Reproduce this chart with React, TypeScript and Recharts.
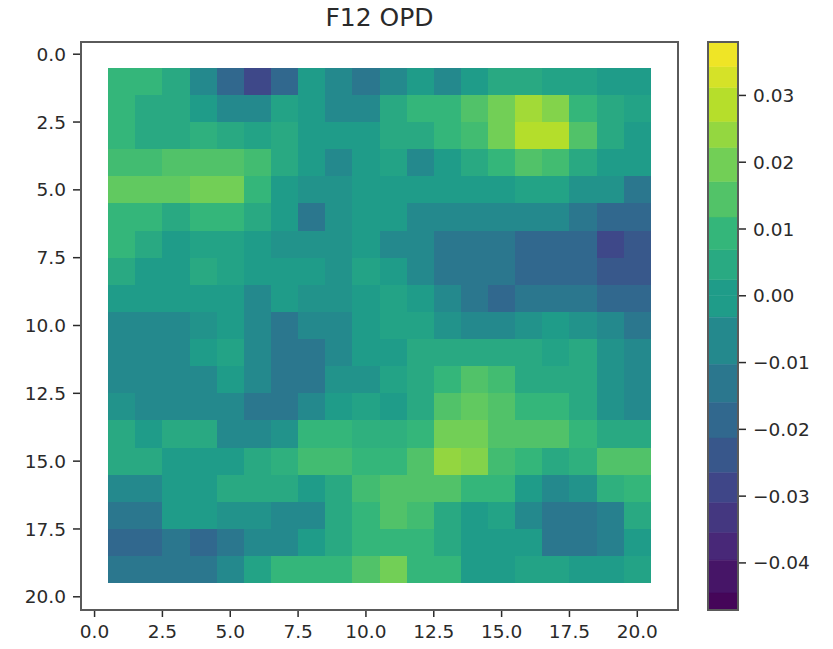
import { Bar, BarChart, Scatter, ScatterChart, XAxis, YAxis } from "recharts";

// OPD per cell, in units of 1e-3, one list per row (top to bottom), 20 columns
const row01 = [9.3, 9.3, 4.6, -6.8, -18.5, -28.2, -18.5, -0.4, -6.8, -13.2, -6.8, -0.4, -6.8, -0.4, 4.6, 4.6, 2.1, 2.1, -0.4, -0.4];
const row02 = [9.3, 4.6, 4.6, -0.4, -6.8, -6.8, 2.1, -0.4, -6.8, -6.8, 4.6, 9.3, 9.3, 14.4, 19.6, 26.1, 21.9, 9.3, 4.6, 2.1];
const row03 = [9.3, 4.6, 4.6, 7, 4.6, 2.1, 4.6, -0.4, -0.4, -0.4, 4.6, 4.6, 9.3, 11.9, 19.6, 28.5, 28.5, 14.4, 4.6, -0.4];
const row04 = [11.9, 11.9, 14.4, 14.4, 14.4, 11.9, 4.6, -0.4, -6.8, -0.4, 2.1, -6.8, -0.4, 4.6, 9.3, 14.4, 11.9, 4.6, -0.4, -0.4];
const row05 = [16.9, 16.9, 16.9, 19.6, 19.6, 9.3, -0.4, -3.6, -3.6, -0.4, -0.4, -0.4, -0.4, -0.4, -0.4, 2.1, 2.1, -3.6, -3.6, -13.2];
const row06 = [9.3, 9.3, 4.6, 9.3, 9.3, 4.6, -0.4, -13.2, -3.6, -0.4, -0.4, -6.8, -6.8, -6.8, -6.8, -6.8, -6.8, -13.2, -18.5, -18.5];
const row07 = [9.3, 4.6, -0.4, 2.1, 2.1, -0.4, -3.6, -3.6, -3.6, -0.4, -6.8, -6.8, -13.2, -13.2, -13.2, -18.5, -18.5, -18.5, -28.2, -23.6];
const row08 = [4.6, -0.4, -0.4, 4.6, 2.1, -0.4, -0.4, -0.4, -3.6, 2.1, -0.4, -6.8, -13.2, -13.2, -13.2, -18.5, -18.5, -18.5, -23.6, -23.6];
const row09 = [-0.4, -0.4, -0.4, -0.4, -0.4, -6.8, -0.4, -3.6, -3.6, -0.4, 2.1, -0.4, -6.8, -13.2, -18.5, -13.2, -13.2, -13.2, -18.5, -18.5];
const row10 = [-6.8, -6.8, -6.8, -3.6, -0.4, -6.8, -13.2, -6.8, -6.8, -0.4, 2.1, 2.1, -3.6, -6.8, -6.8, -3.6, -0.4, -3.6, -6.8, -13.2];
const row11 = [-6.8, -6.8, -6.8, -0.4, 2.1, -6.8, -13.2, -13.2, -6.8, -0.4, -0.4, 4.6, 4.6, 4.6, 4.6, 4.6, 2.1, 4.6, -3.6, -6.8];
const row12 = [-6.8, -6.8, -6.8, -6.8, -0.4, -6.8, -13.2, -13.2, -3.6, -3.6, 2.1, 4.6, 9.3, 14.4, 11.9, 4.6, 4.6, 4.6, -3.6, -6.8];
const row13 = [-3.6, -6.8, -6.8, -6.8, -6.8, -13.2, -13.2, -6.8, -0.4, 2.1, -0.4, 4.6, 14.4, 16.9, 14.4, 9.3, 9.3, 4.6, -3.6, -6.8];
const row14 = [4.6, -0.4, 4.6, 4.6, -6.8, -6.8, -3.6, 9.3, 9.3, 7, 7, 9.3, 19.6, 19.6, 14.4, 14.4, 14.4, 9.3, 4.6, 4.6];
const row15 = [4.6, 4.6, -0.4, -0.4, -0.4, 4.6, 7, 11.9, 11.9, 9.3, 9.3, 14.4, 24.1, 21.9, 11.9, 9.3, 4.6, 7, 14.4, 14.4];
const row16 = [-6.8, -6.8, -0.4, -0.4, 4.6, 4.6, 4.6, -0.4, 4.6, 11.9, 14.4, 14.4, 14.4, 9.3, 9.3, -0.4, -6.8, -3.6, 7, 9.3];
const row17 = [-13.2, -13.2, -0.4, -0.4, -3.6, -3.6, -6.8, -6.8, 4.6, 9.3, 14.4, 11.9, 4.6, -0.4, 2.1, -6.8, -13.2, -13.2, -10, 4.6];
const row18 = [-18.5, -18.5, -13.2, -18.5, -13.2, -6.8, -6.8, -0.4, 4.6, 9.3, 9.3, 9.3, 4.6, -0.4, -0.4, -0.4, -13.2, -13.2, -10, -0.4];
const row19 = [-13.2, -13.2, -13.2, -13.2, -6.8, 2.1, 9.3, 9.3, 9.3, 14.4, 19.6, 9.3, 9.3, -0.4, -0.4, 2.1, 2.1, -0.4, -0.4, 2.1];
const rows = [row01, row02, row03, row04, row05, row06, row07, row08, row09, row10, row11, row12, row13, row14, row15, row16, row17, row18, row19];

const xTicks = [0, 2.5, 5, 7.5, 10, 12.5, 15, 17.5, 20];
const yTicks = [0, 2.5, 5, 7.5, 10, 12.5, 15, 17.5, 20];
const barTicks = [-0.04, -0.03, -0.02, -0.01, 0, 0.01, 0.02, 0.03];

// colorbar band edges, bottom to top
const barEdges = [-0.0469, -0.0445, -0.0396, -0.0355, -0.031, -0.0265, -0.0213, -0.016, -0.0103, -0.0032, 0, 0.0024, 0.0069, 0.0118, 0.0171, 0.0222, 0.0261, 0.0312, 0.0343, 0.038];

const viridis = ["#440154", "#482878", "#3e4989", "#31688e", "#26828e", "#1f9e89", "#35b779", "#6ece58", "#b5de2b", "#fde725"];

const V_MIN = -0.0469;
const V_MAX = 0.038;
const FONT = "DejaVu Sans";

const PLOT = { left: 81, top: 42, width: 597, height: 567 };
const BAR = { left: 708, width: 30 };
const X_DOMAIN = [-0.5, 21.5];
const Y_DOMAIN = [-0.45, 20.45];
const CELL_W = PLOT.width / (X_DOMAIN[1] - X_DOMAIN[0]);
const CELL_H = PLOT.height / (Y_DOMAIN[1] - Y_DOMAIN[0]);

function colorFor(v: number) {
  const t = Math.min(1, Math.max(0, (v - V_MIN) / (V_MAX - V_MIN))) * (viridis.length - 1);
  const i = Math.min(viridis.length - 2, Math.floor(t));
  const f = t - i;
  const ch = (hex: string, at: number) => parseInt(hex.slice(at, at + 2), 16);
  const mix = (at: number) => Math.round(ch(viridis[i], at) * (1 - f) + ch(viridis[i + 1], at) * f);
  return `rgb(${mix(1)},${mix(3)},${mix(5)})`;
}

const cells = rows.flatMap((row, r) =>
  row.map((v, c) => ({ x: c + 1, y: r + 1, v: v / 1000 }))
);

// bands split at zero so the sign stack can grow both ways from the axis
const bandData: Record<string, number> = { name: 0 };
const bandKeys = barEdges.slice(1).map((top, i) => {
  const bottom = barEdges[i];
  const key = `band${i}`;
  bandData[key] = top <= 0 ? bottom - top : top - bottom;
  return key;
});
const negKeys = bandKeys.filter((_, i) => barEdges[i + 1] <= 0).reverse();
const posKeys = bandKeys.filter((_, i) => barEdges[i + 1] > 0);

function bandColor(key: string) {
  const i = bandKeys.indexOf(key);
  const bottom = barEdges[i];
  const top = barEdges[i + 1];
  // the two halves of the band around zero share one colour
  if (top === 0 || bottom === 0) return colorFor(-0.0004);
  return colorFor((bottom + top) / 2);
}

function HeatCell(props: any) {
  const { cx, cy, payload } = props;
  return (
    <rect
      x={cx - CELL_W / 2}
      y={cy - CELL_H / 2}
      width={CELL_W}
      height={CELL_H}
      fill={colorFor(payload.v)}
      shapeRendering="crispEdges"
    />
  );
}

const frame = (left: number, width: number) => (
  <div
    style={{
      position: "absolute",
      left,
      top: 41,
      width,
      height: 570,
      boxSizing: "border-box",
      border: "2px solid #5a5a5a",
      pointerEvents: "none",
    }}
  />
);

const tickStyle = { fill: "#2a2a2a", fontSize: 18.5, fontFamily: FONT };
const tickLine = { stroke: "#2a2a2a", strokeWidth: 1.5 };

export default function App() {
  return (
    <div style={{ position: "absolute", left: 0, top: 0, width: 833, height: 649, background: "#fff", overflow: "hidden" }}>
      <div
        style={{
          position: "absolute",
          left: PLOT.left,
          width: PLOT.width,
          top: 3,
          textAlign: "center",
          fontFamily: FONT,
          fontSize: 25,
          color: "#2a2a2a",
        }}
      >
        F12 OPD
      </div>
      <div style={{ position: "absolute", left: 0, top: 0 }}>
        <ScatterChart
          width={PLOT.left + PLOT.width + 2}
          height={649}
          margin={{ top: PLOT.top, right: 2, bottom: 0, left: 0 }}
        >
          <XAxis
            type="number"
            dataKey="x"
            domain={X_DOMAIN}
            ticks={xTicks}
            interval={0}
            height={40}
            allowDataOverflow
            axisLine={false}
            tickLine={tickLine}
            tickSize={8}
            tickMargin={8}
            tick={tickStyle}
            tickFormatter={(v: number) => v.toFixed(1)}
          />
          <YAxis
            type="number"
            dataKey="y"
            domain={Y_DOMAIN}
            ticks={yTicks}
            interval={0}
            reversed
            width={PLOT.left}
            allowDataOverflow
            axisLine={false}
            tickLine={tickLine}
            tickSize={8}
            tickMargin={7}
            tick={tickStyle}
            tickFormatter={(v: number) => v.toFixed(1)}
          />
          <Scatter data={cells} shape={HeatCell} isAnimationActive={false} />
        </ScatterChart>
      </div>
      <div style={{ position: "absolute", left: BAR.left, top: 0 }}>
        <BarChart
          width={125}
          height={649}
          data={[bandData]}
          stackOffset="sign"
          barCategoryGap={0}
          margin={{ top: PLOT.top, right: 0, bottom: 40, left: 0 }}
        >
          <XAxis dataKey="name" hide />
          <YAxis
            type="number"
            orientation="right"
            domain={[V_MIN, V_MAX]}
            ticks={barTicks}
            interval={0}
            width={125 - BAR.width}
            allowDataOverflow
            axisLine={false}
            tickLine={tickLine}
            tickSize={8}
            tickMargin={7}
            tick={{ ...tickStyle, textAnchor: "start" }}
            tickFormatter={(v: number) =>
              v < 0 ? `\u2212${Math.abs(v).toFixed(2)}` : v.toFixed(2)
            }
          />
          {[...negKeys, ...posKeys].map((key) => (
            <Bar
              key={key}
              dataKey={key}
              stackId="bar"
              fill={bandColor(key)}
              stroke={bandColor(key)}
              strokeWidth={0.5}
              isAnimationActive={false}
            />
          ))}
        </BarChart>
      </div>
      {frame(80, 599)}
      {frame(707, 32)}
    </div>
  );
}
